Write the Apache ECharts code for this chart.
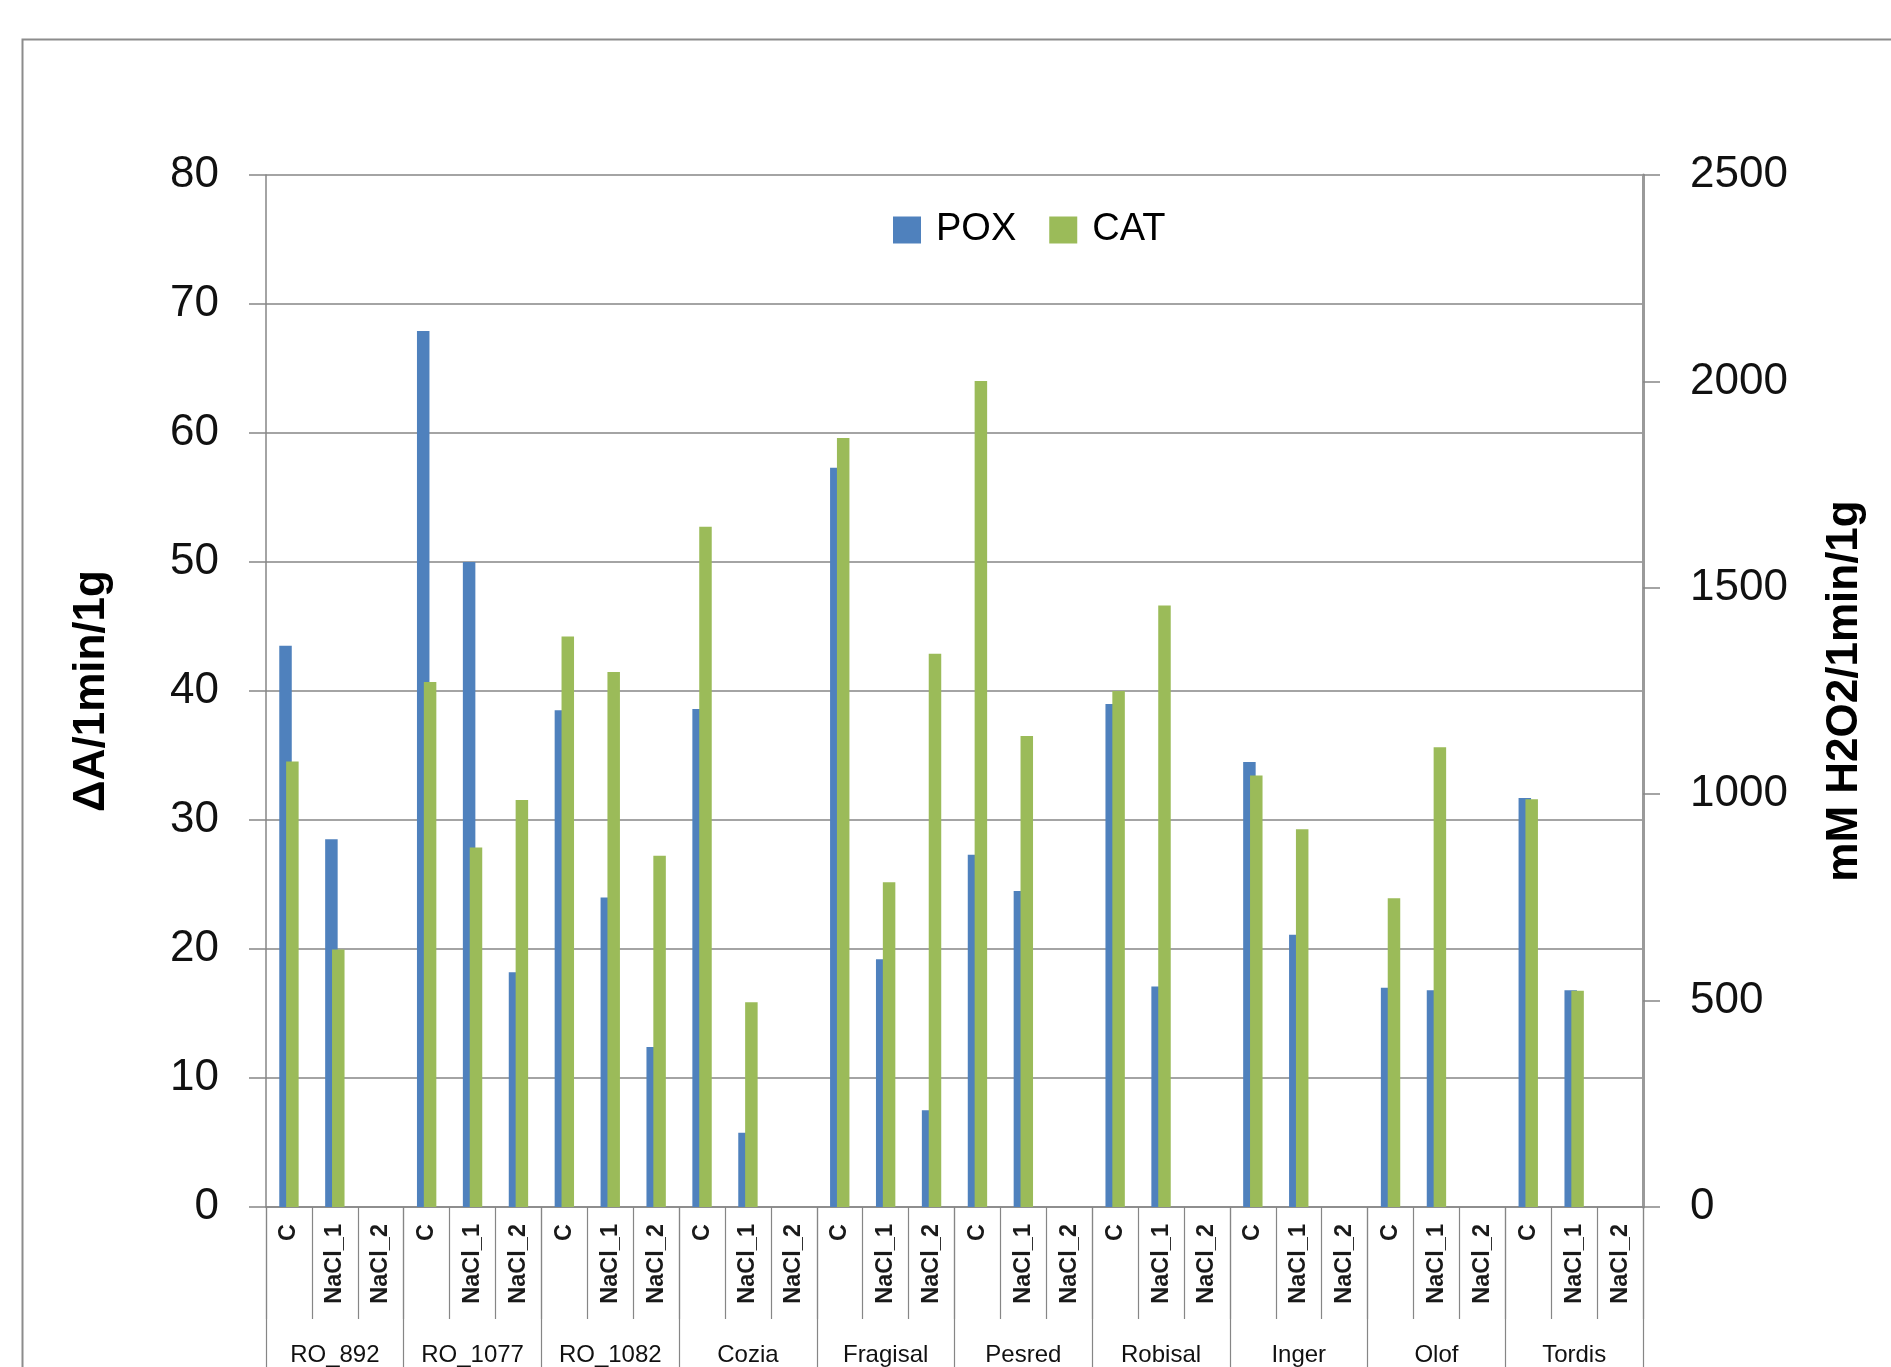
<!DOCTYPE html>
<html>
<head>
<meta charset="utf-8">
<script src="https://cdn.jsdelivr.net/npm/echarts@6/dist/echarts.min.js"></script>
<style>
html,body{margin:0;padding:0;background:#fff;}
#chart{width:1891px;height:1367px;}
</style>
</head>
<body>
<div id="chart"></div>
<script>
// ---- data ----
const groups = ['RO_892','RO_1077','RO_1082','Cozia','Fragisal','Pesred','Robisal','Inger','Olof','Tordis'];
const treatments = ['C','NaCl_1','NaCl_2'];
const poxValues = [43.5, 28.5, null, 67.9, 50.0, 18.2, 38.5, 24.0, 12.4, 38.6, 5.75, null, 57.3, 19.2, 7.5, 27.3, 24.5, null, 39.0, 17.1, null, 34.5, 21.1, null, 17.0, 16.8, null, 31.7, 16.8, null];
const catValues = [1079, 624, null, 1272, 871, 986, 1382, 1296, 851, 1648, 496, null, 1863, 787, 1340, 2001, 1141, null, 1250, 1457, null, 1045, 915, null, 748, 1114, null, 988, 524, null];
const leftTicks = {min: 0, max: 80, interval: 10};
const rightTicks = {min: 0, max: 2500, interval: 500};
const leftTitle = 'ΔA/1min/1g';
const rightTitle = 'mM H2O2/1min/1g';
const seriesNames = ['POX', 'CAT'];

const categories = [];
groups.forEach(g => treatments.forEach(t => categories.push(t)));

const FONT = '"Liberation Sans", Arial, sans-serif';
const GRID_COLOR = '#868686';
const chart = echarts.init(document.getElementById('chart'));
chart.setOption({
  animation: false,
  backgroundColor: '#fff',
  textStyle: {fontFamily: FONT},
  graphic: [{
    type: 'rect', left: 20, top: 37, shape: {width: 1890, height: 1350},
    style: {fill: 'none', stroke: '#8c8c8c', lineWidth: 2}, silent: true
  }],
  legend: {
    left: 893, top: 211, padding: 0,
    itemWidth: 28, itemHeight: 27, itemGap: 33,
    icon: 'rect',
    textStyle: {fontSize: 38, color: '#000', fontFamily: FONT, padding: [0, 0, 0, 10]},
    data: seriesNames
  },
  grid: {left: 266, right: 248, top: 175, bottom: 157, containLabel: false},
  xAxis: [{
    type: 'category', position: 'bottom', data: categories,
    axisLine: {show: true, lineStyle: {color: GRID_COLOR, width: 1.5}},
    axisTick: {show: true, interval: 0, length: 112, lineStyle: {color: GRID_COLOR, width: 1.2}},
    axisLabel: {interval: 0, rotate: 90, margin: 17, fontSize: 23.5, fontWeight: 'bold', color: '#1a1a1a', fontFamily: FONT},
    splitLine: {show: false}
  }, {
    type: 'category', position: 'bottom', data: groups,
    axisLine: {show: false},
    axisTick: {show: true, interval: 0, length: 170, lineStyle: {color: GRID_COLOR, width: 1.2}},
    axisLabel: {interval: 0, margin: 136, fontSize: 24, color: '#111', fontFamily: FONT, verticalAlign: 'top'},
    splitLine: {show: false}
  }],
  yAxis: [{
    type: 'value', position: 'left',
    min: leftTicks.min, max: leftTicks.max, interval: leftTicks.interval,
    name: leftTitle, nameLocation: 'middle', nameRotate: 90, nameGap: 152,
    nameTextStyle: {fontSize: 44, fontWeight: 'bold', color: '#000', fontFamily: FONT},
    axisLine: {show: true, lineStyle: {color: GRID_COLOR, width: 1.5}},
    axisTick: {show: true, length: 17, lineStyle: {color: GRID_COLOR, width: 1.5}},
    axisLabel: {fontSize: 44, margin: 47, color: '#111', fontFamily: FONT, formatter: v => String(v)},
    splitLine: {show: true, lineStyle: {color: GRID_COLOR, width: 1.5}}
  }, {
    type: 'value', position: 'right',
    min: rightTicks.min, max: rightTicks.max, interval: rightTicks.interval,
    name: rightTitle, nameLocation: 'middle', nameRotate: 90, nameGap: 180,
    nameTextStyle: {fontSize: 44, fontWeight: 'bold', color: '#000', fontFamily: FONT},
    axisLine: {show: true, lineStyle: {color: '#9a9a9a', width: 3}},
    axisTick: {show: true, length: 17, lineStyle: {color: GRID_COLOR, width: 1.5}},
    axisLabel: {fontSize: 44, margin: 47, color: '#111', fontFamily: FONT, formatter: v => String(v)},
    splitLine: {show: false}
  }],
  series: [{
    name: seriesNames[0], type: 'bar', xAxisIndex: 0, yAxisIndex: 0,
    data: poxValues, barWidth: 12.5, barGap: '-45%',
    itemStyle: {color: '#4F81BD'}
  }, {
    name: seriesNames[1], type: 'bar', xAxisIndex: 0, yAxisIndex: 1,
    data: catValues, barWidth: 12.5, barGap: '-45%',
    itemStyle: {color: '#9BBB59'}
  }]
});
</script>
</body>
</html>
